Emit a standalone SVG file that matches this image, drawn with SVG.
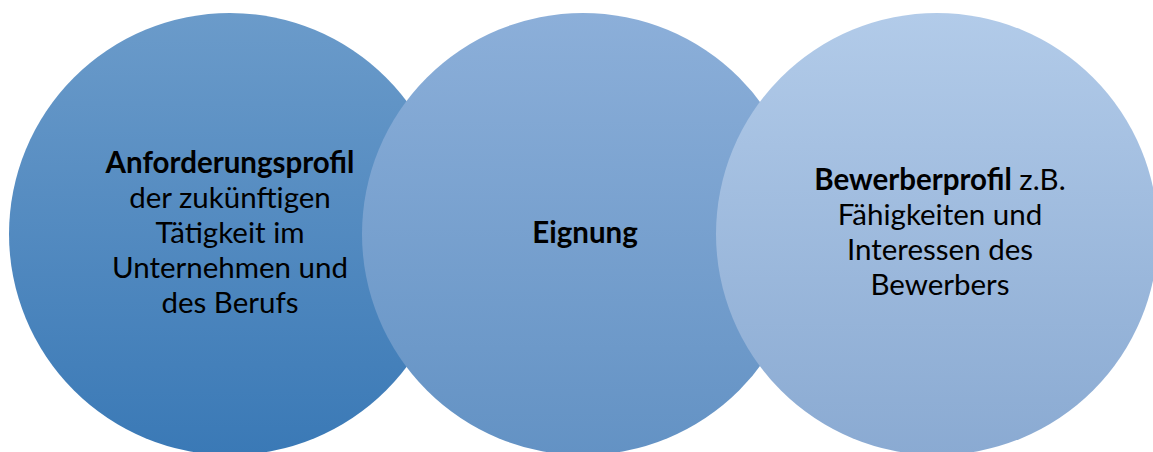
<svg xmlns="http://www.w3.org/2000/svg" width="1153" height="452" viewBox="0 0 1153 452">
<defs>
<linearGradient id="gL" x1="0" y1="0" x2="0" y2="1">
<stop offset="0" stop-color="#6B9BCA"/>
<stop offset="1" stop-color="#3A79B6"/>
</linearGradient>
<linearGradient id="gM" x1="0" y1="0" x2="0" y2="1">
<stop offset="0" stop-color="#8CAFD9"/>
<stop offset="1" stop-color="#6392C4"/>
</linearGradient>
<linearGradient id="gR" x1="0" y1="0" x2="0" y2="1">
<stop offset="0" stop-color="#B2CBE9"/>
<stop offset="1" stop-color="#8AAAD2"/>
</linearGradient>
<style>
text{font-family:Lato,"Liberation Sans",sans-serif;font-size:29.5px;fill:#000;text-anchor:middle}
.b{font-weight:bold}
</style>
</defs>
<rect width="1153" height="452" fill="#fff"/>
<g id="connectors"></g>
<g id="node-anforderungsprofil">
<circle cx="230" cy="234" r="221" fill="url(#gL)"/>
<text x="230" y="173"><tspan class="b">Anforderungsprofil</tspan></text>
<text x="230" y="208">der zukünftigen</text>
<text x="230" y="243">Tätigkeit im</text>
<text x="230" y="278">Unternehmen und</text>
<text x="230" y="313">des Berufs</text>
</g>
<g id="node-eignung">
<circle cx="583" cy="234" r="221" fill="url(#gM)"/>
<text x="585" y="243" class="b">Eignung</text>
</g>
<g id="node-bewerberprofil">
<circle cx="937" cy="234" r="221" fill="url(#gR)"/>
<text x="940" y="190"><tspan class="b">Bewerberprofil</tspan> z.B.</text>
<text x="940" y="225">Fähigkeiten und</text>
<text x="940" y="260">Interessen des</text>
<text x="940" y="295">Bewerbers</text>
</g>
</svg>
